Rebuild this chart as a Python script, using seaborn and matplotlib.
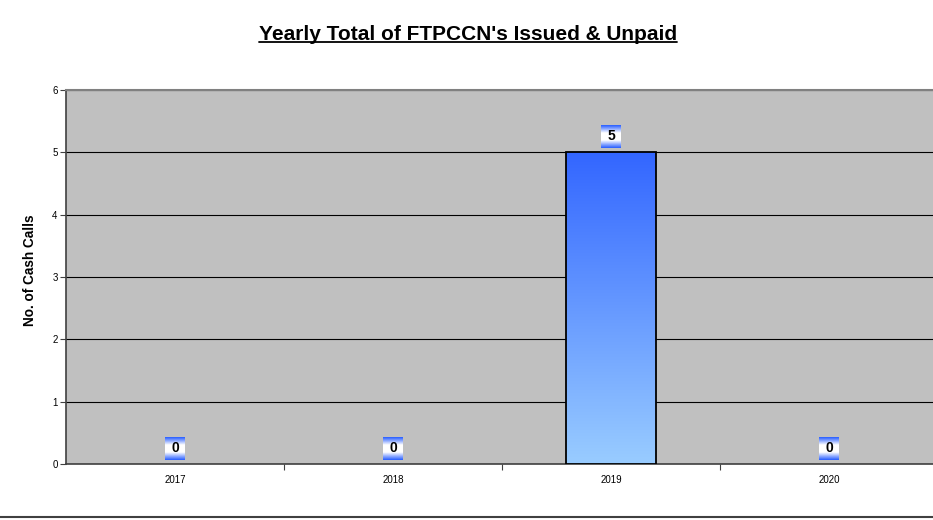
import numpy as np
import matplotlib
matplotlib.use('Agg')
import matplotlib.pyplot as plt
from matplotlib.colors import LinearSegmentedColormap
from matplotlib.offsetbox import OffsetImage, AnnotationBbox
import seaborn as sns

years = ['2017', '2018', '2019', '2020']
counts = [0, 0, 5, 0]
title = "Yearly Total of FTPCCN's Issued & Unpaid"
ylabel = 'No. of Cash Calls'

sns.set_style('white')
plt.rcParams['font.family'] = ['Liberation Sans', 'DejaVu Sans']
plt.rcParams['text.color'] = 'black'
plt.rcParams['xtick.color'] = 'black'
plt.rcParams['ytick.color'] = 'black'

fig = plt.figure(figsize=(9.33, 5.2), dpi=100)
ax = fig.add_axes([66 / 933, 56 / 520, 872 / 933, 374 / 520])
ax.set_facecolor('#c0c0c0')

sns.barplot(x=years, y=counts, width=0.41, color='#3366ff', ax=ax, zorder=3)

# gradient fill for bars (dark blue at top, pale blue at bottom)
bar_cmap = LinearSegmentedColormap.from_list('bar', ['#99ccff', '#3366ff'])
grad = np.linspace(0, 1, 256).reshape(-1, 1)
for p in ax.patches:
    h = p.get_height()
    if h <= 0:
        p.set_visible(False)
        continue
    x0 = p.get_x()
    x1 = x0 + p.get_width()
    im = ax.imshow(grad, cmap=bar_cmap, origin='lower', aspect='auto',
                   extent=[x0, x1, 0, h], zorder=3)
    im.set_clip_path(p)
    p.set_facecolor('none')
    p.set_edgecolor('black')
    p.set_linewidth(1.3)
    p.set_zorder(4)
ax.set_xlim(-0.5, 3.5)
ax.set_ylim(0, 6)

# gridlines
ax.yaxis.grid(True, color='black', linewidth=0.8, zorder=1)
ax.set_axisbelow(True)

# ticks
ax.set_yticks(range(0, 7))
ax.tick_params(axis='y', labelsize=7, length=4, width=0.8, color='#404040', direction='out', left=True, pad=2)
ax.tick_params(axis='x', labelsize=7, length=0, pad=8)
ax.set_xticks([0.5, 1.5, 2.5], minor=True)
ax.tick_params(axis='x', which='minor', length=4, width=0.8, color='#404040', direction='out', bottom=True)
ax.set_xlabel('')
ax.set_ylabel('')

for side in ['left', 'bottom']:
    ax.spines[side].set_color('#404040')
    ax.spines[side].set_linewidth(1.2)
ax.spines['top'].set_color('#808080')
ax.spines['top'].set_linewidth(1.5)
ax.spines['right'].set_visible(False)

# data labels in small gradient boxes
lab_cmap = LinearSegmentedColormap.from_list('lab', ['#3366ff', '#ffffff', '#ffffff', '#3366ff'])
box = lab_cmap(np.linspace(0, 1, 23)).reshape(23, 1, 4).repeat(20, axis=1)
for i, v in enumerate(counts):
    ab = AnnotationBbox(OffsetImage(box, zoom=72 / 100), (i, v), xybox=(0, 11.5),
                        xycoords='data', boxcoords='offset points', frameon=False,
                        pad=0, zorder=6)
    ax.add_artist(ab)
    ax.annotate(str(v), (i, v), xytext=(0, 11.5), textcoords='offset points',
                ha='center', va='center', fontsize=10, fontweight='bold', zorder=7)

# title + underline
t = fig.text(468 / 933, 1 - 34 / 520, title, ha='center', va='center',
             fontsize=15, fontweight='bold')
fig.text(30 / 933, 1 - 270 / 520, ylabel, ha='center', va='center', rotation=90,
         fontsize=9.8, fontweight='bold')

fig.canvas.draw()
bb = t.get_window_extent().transformed(fig.transFigure.inverted())
fig.add_artist(plt.Line2D([bb.x0, bb.x1], [bb.y0 + 0.002, bb.y0 + 0.002],
                          transform=fig.transFigure, color='black', linewidth=1.3))

# bottom border line of chart area
fig.add_artist(plt.Line2D([0, 1], [3 / 520, 3 / 520], transform=fig.transFigure,
                          color='#404040', linewidth=1.5))

fig.savefig('out.png', dpi=100)
